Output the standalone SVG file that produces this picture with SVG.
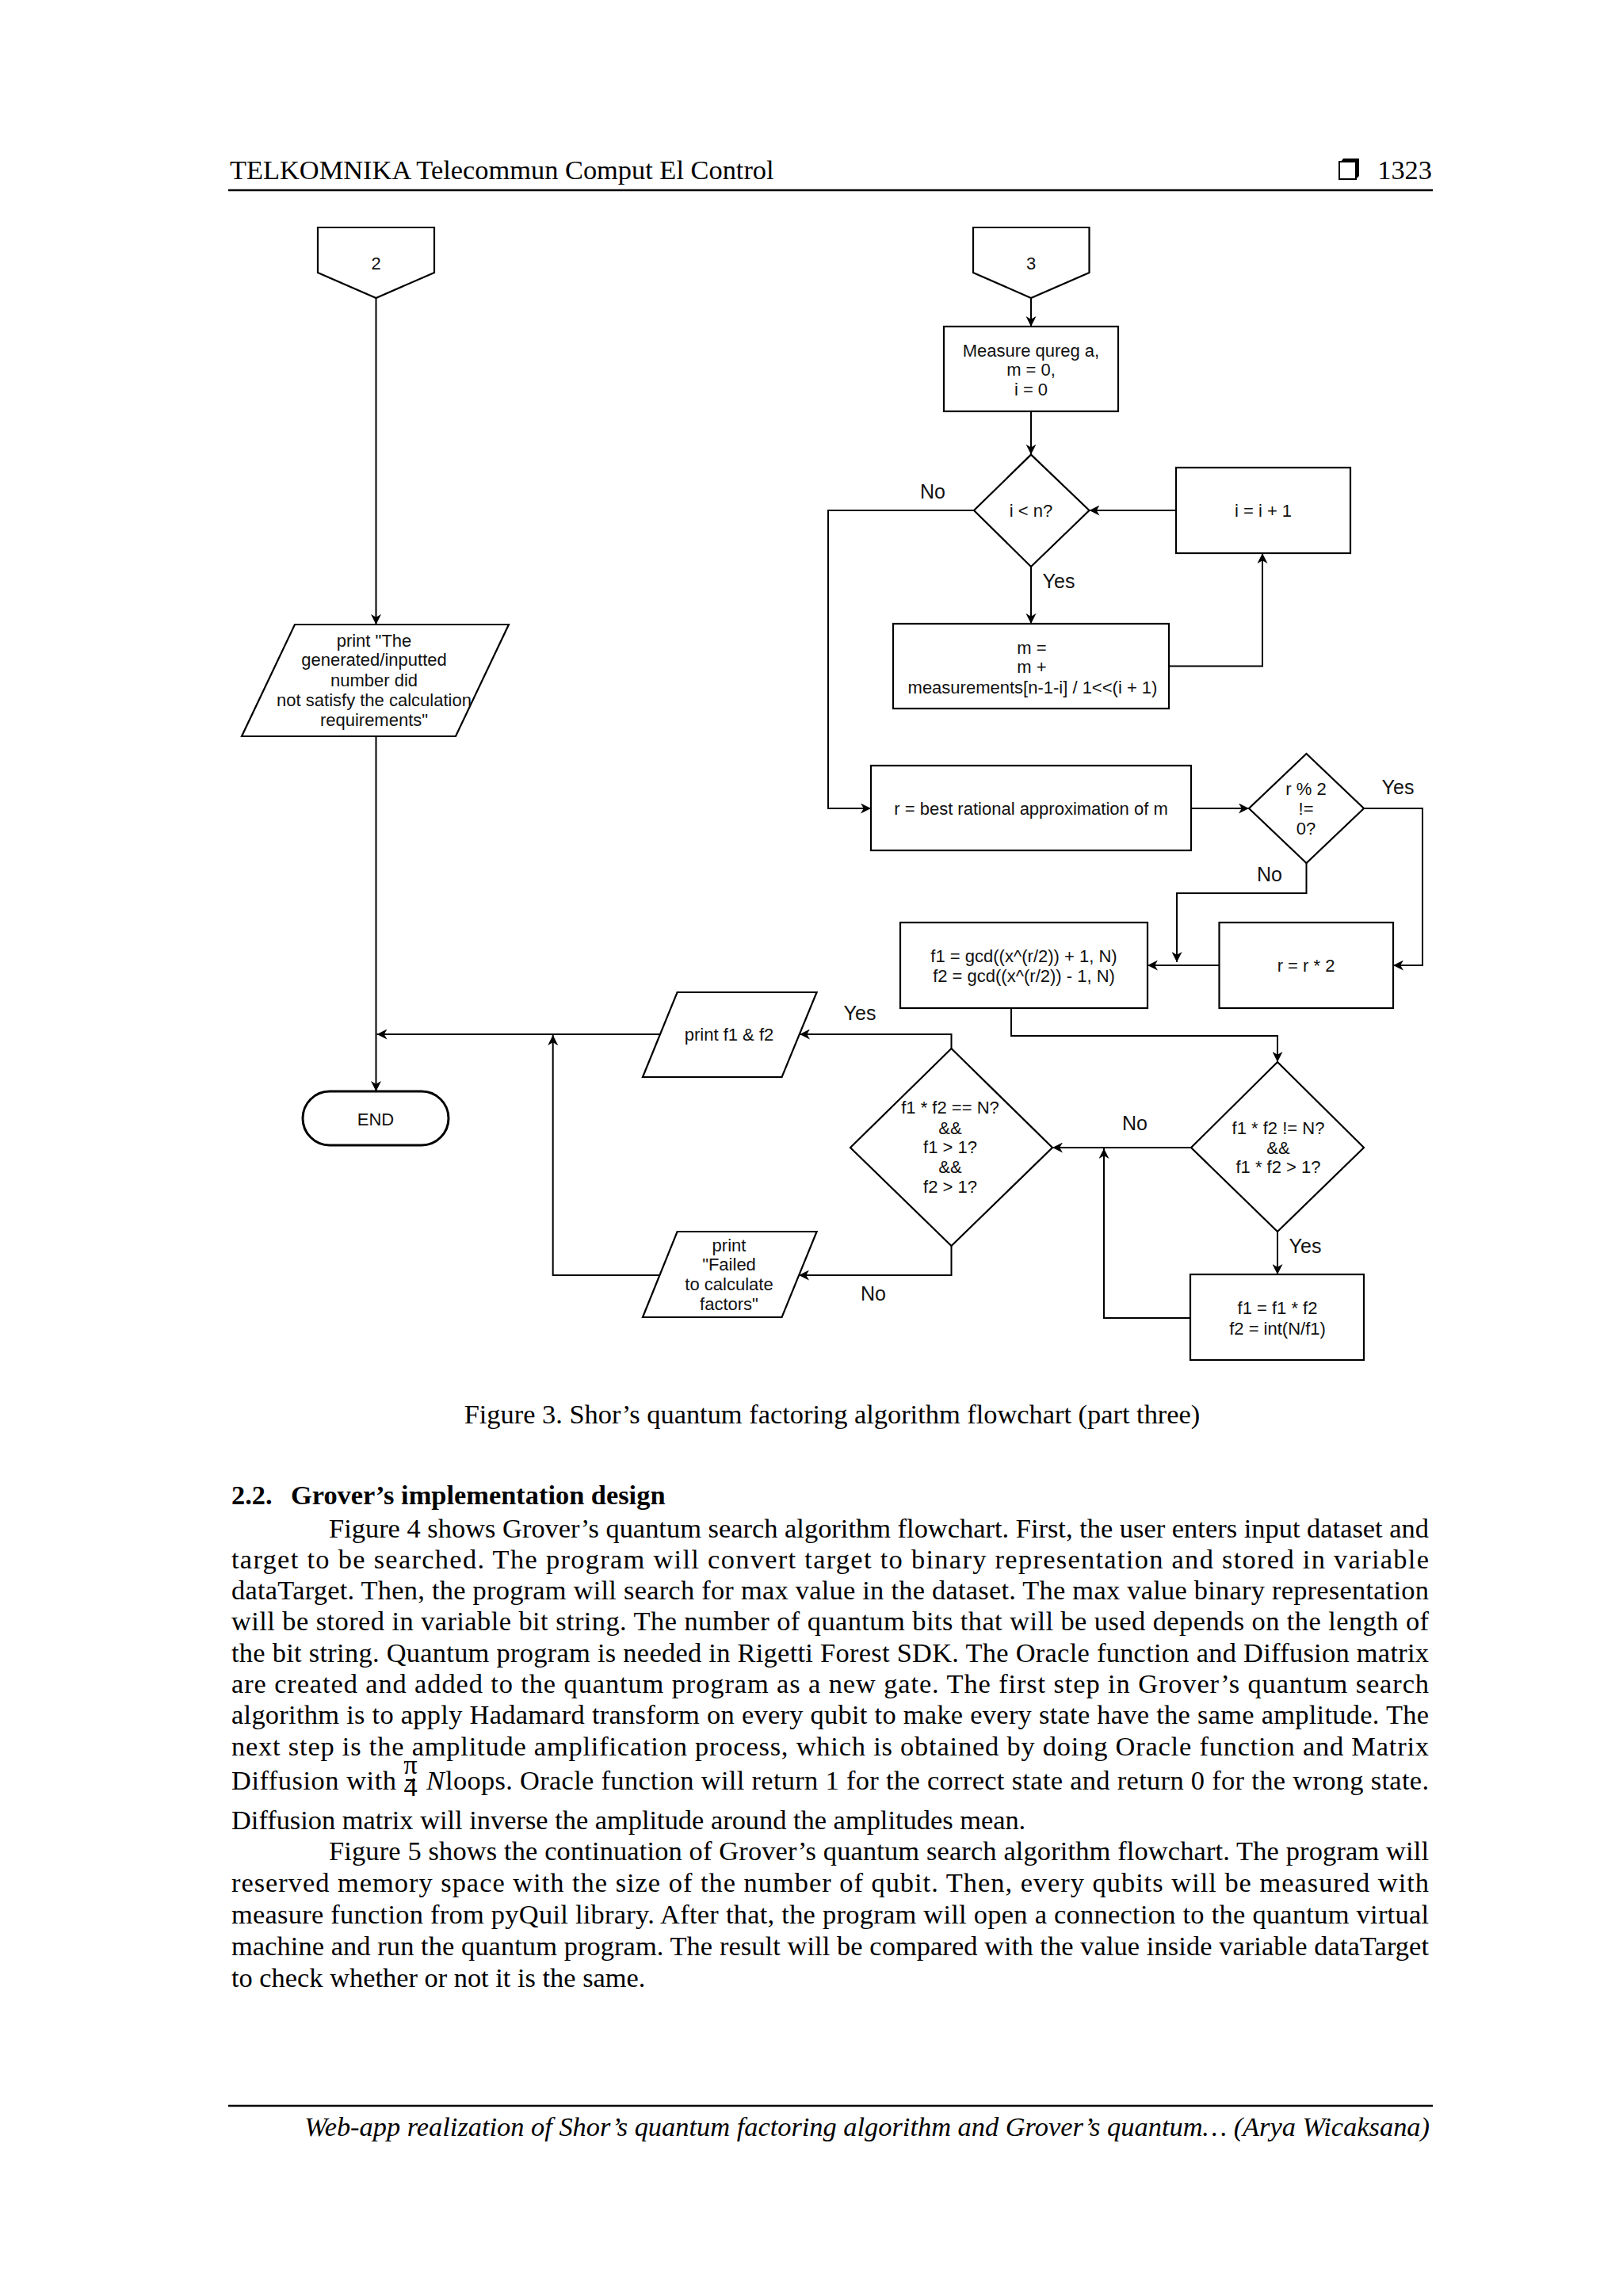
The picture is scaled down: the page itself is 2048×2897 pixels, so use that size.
<svg xmlns="http://www.w3.org/2000/svg" width="2048" height="2897" viewBox="0 0 2048 2897">
<style>
.shape{fill:#fff;stroke:#000;stroke-width:2.2}
.term{fill:#fff;stroke:#000;stroke-width:3}
.conn{fill:none;stroke:#000;stroke-width:2}
.fc{font-family:"Liberation Sans",Arial,sans-serif;font-size:22px;text-anchor:middle;fill:#111}
.lbl{font-family:"Liberation Sans",Arial,sans-serif;font-size:25px;text-anchor:middle;fill:#111}
.pg{font-family:"Liberation Serif","Times New Roman",serif;font-size:34.4px;fill:#000}
.rule{stroke:#000;stroke-width:2.5}
</style>
<defs>
<marker id="arr" viewBox="0 0 12 12" markerWidth="13" markerHeight="13" refX="12" refY="6" orient="auto" markerUnits="userSpaceOnUse">
<path d="M0,0 L12,6 L0,12 L3.5,6 z" fill="#000"/>
</marker>
</defs>
<rect width="2048" height="2897" fill="#fff"/>

<!-- Header -->
<g id="header">
<text class="pg" x="290" y="226">TELKOMNIKA Telecommun Comput El Control</text>
<rect x="1690" y="204" width="21" height="22" fill="#fff" stroke="#000" stroke-width="2"/>
<path d="M1692,204 L1695,200 L1715,200 L1715,222 L1711,226 L1711,204 z" fill="#000"/>
<text class="pg" x="1807" y="226" text-anchor="end">1323</text>
<line class="rule" x1="288" y1="240" x2="1808" y2="240"/>
</g>

<!-- Connectors -->
<g id="connectors">
<path class="conn" d="M474.5,376 L474.5,788" marker-end="url(#arr)"/>
<path class="conn" d="M474.5,929 L474.5,1377" marker-end="url(#arr)"/>
<path class="conn" d="M1301,376 L1301,412" marker-end="url(#arr)"/>
<path class="conn" d="M1301,519 L1301,573.6" marker-end="url(#arr)"/>
<path class="conn" d="M1301,715 L1301,787" marker-end="url(#arr)"/>
<path class="conn" d="M1475,840.5 L1593,840.5 L1593,698" marker-end="url(#arr)"/>
<path class="conn" d="M1484,644 L1374.5,644" marker-end="url(#arr)"/>
<path class="conn" d="M1229,644 L1045,644 L1045,1020 L1099,1020" marker-end="url(#arr)"/>
<path class="conn" d="M1503,1020 L1576,1020" marker-end="url(#arr)"/>
<path class="conn" d="M1721,1020 L1795,1020 L1795,1218 L1758,1218" marker-end="url(#arr)"/>
<path class="conn" d="M1648.5,1089 L1648.5,1127 L1485,1127 L1485,1214" marker-end="url(#arr)"/>
<path class="conn" d="M1538.5,1218 L1448,1218" marker-end="url(#arr)"/>
<path class="conn" d="M1276,1272 L1276,1307 L1612,1307 L1612,1340" marker-end="url(#arr)"/>
<path class="conn" d="M1503,1448 L1328,1448" marker-end="url(#arr)"/>
<path class="conn" d="M1612,1554 L1612,1608" marker-end="url(#arr)"/>
<path class="conn" d="M1502,1663 L1393,1663 L1393,1449" marker-end="url(#arr)"/>
<path class="conn" d="M1200.5,1323 L1200.5,1305 L1009,1305" marker-end="url(#arr)"/>
<path class="conn" d="M1200.5,1572 L1200.5,1609 L1008,1609" marker-end="url(#arr)"/>
<path class="conn" d="M833,1305 L475.5,1305" marker-end="url(#arr)"/>
<path class="conn" d="M832,1609 L697.7,1609 L697.7,1306" marker-end="url(#arr)"/>
<text class="lbl" x="1177" y="629">No</text>
<text class="lbl" x="1336" y="742">Yes</text>
<text class="lbl" x="1764" y="1002">Yes</text>
<text class="lbl" x="1602" y="1112">No</text>
<text class="lbl" x="1085" y="1287">Yes</text>
<text class="lbl" x="1102" y="1641">No</text>
<text class="lbl" x="1432" y="1426">No</text>
<text class="lbl" x="1647" y="1581">Yes</text>
</g>

<!-- Nodes -->
<g id="n2">
<polygon class="shape" points="401,287 548,287 548,344 474.5,376 401,344"/>
<text class="fc" x="474.5" y="340">2</text>
</g>
<g id="n3">
<polygon class="shape" points="1228,287 1374.5,287 1374.5,344 1301,376 1228,344"/>
<text class="fc" x="1301" y="340">3</text>
</g>
<g id="printFail1">
<polygon class="shape" points="372,788 642,788 575,929 305,929"/>
<text class="fc" x="472" y="816">print "The</text>
<text class="fc" x="472" y="840">generated/inputted</text>
<text class="fc" x="472" y="866">number did</text>
<text class="fc" x="472" y="891">not satisfy the calculation</text>
<text class="fc" x="472" y="916">requirements"</text>
</g>
<g id="end">
<rect class="term" x="382" y="1377" width="184" height="68" rx="34" ry="34"/>
<text class="fc" x="474" y="1420">END</text>
</g>
<g id="measure">
<rect class="shape" x="1191" y="412" width="220" height="107"/>
<text class="fc" x="1301" y="450">Measure qureg a,</text>
<text class="fc" x="1301" y="474">m = 0,</text>
<text class="fc" x="1301" y="499">i = 0</text>
</g>
<g id="d_ilt">
<polygon class="shape" points="1301,573.6 1374.5,644 1301,715 1229,644"/>
<text class="fc" x="1301" y="652">i &lt; n?</text>
</g>
<g id="incr">
<rect class="shape" x="1484" y="590" width="220" height="108"/>
<text class="fc" x="1594" y="652">i = i + 1</text>
</g>
<g id="mbox">
<rect class="shape" x="1127" y="787" width="348" height="107"/>
<text class="fc" x="1302" y="825">m =</text>
<text class="fc" x="1302" y="849">m +</text>
<text class="fc" x="1303" y="875">measurements[n-1-i] / 1&lt;&lt;(i + 1)</text>
</g>
<g id="rbox">
<rect class="shape" x="1099" y="966" width="404" height="107"/>
<text class="fc" x="1301" y="1028">r = best rational approximation of m</text>
</g>
<g id="d_rmod">
<polygon class="shape" points="1648.5,951 1721,1020 1648.5,1089 1576,1020"/>
<text class="fc" x="1648" y="1003">r % 2</text>
<text class="fc" x="1648" y="1028">!=</text>
<text class="fc" x="1648" y="1053">0?</text>
</g>
<g id="gcd">
<rect class="shape" x="1136" y="1164" width="312" height="108"/>
<text class="fc" x="1292" y="1214">f1 = gcd((x^(r/2)) + 1, N)</text>
<text class="fc" x="1292" y="1239">f2 = gcd((x^(r/2)) - 1, N)</text>
</g>
<g id="rdouble">
<rect class="shape" x="1538.5" y="1164" width="219.5" height="108"/>
<text class="fc" x="1648" y="1226">r = r * 2</text>
</g>
<g id="d_neq">
<polygon class="shape" points="1612,1340 1721,1448 1612,1554 1503,1448"/>
<text class="fc" x="1613" y="1431">f1 * f2 != N?</text>
<text class="fc" x="1613" y="1456">&amp;&amp;</text>
<text class="fc" x="1613" y="1480">f1 * f2 &gt; 1?</text>
</g>
<g id="fupd">
<rect class="shape" x="1502" y="1608" width="219" height="108"/>
<text class="fc" x="1612" y="1658">f1 = f1 * f2</text>
<text class="fc" x="1612" y="1684">f2 = int(N/f1)</text>
</g>
<g id="d_eq">
<polygon class="shape" points="1200.5,1323 1328,1448 1200.5,1572 1073,1448"/>
<text class="fc" x="1199" y="1405">f1 * f2 == N?</text>
<text class="fc" x="1199" y="1431">&amp;&amp;</text>
<text class="fc" x="1199" y="1455">f1 &gt; 1?</text>
<text class="fc" x="1199" y="1480">&amp;&amp;</text>
<text class="fc" x="1199" y="1505">f2 &gt; 1?</text>
</g>
<g id="printf">
<polygon class="shape" points="854.6,1252 1030.6,1252 986.6,1359 811,1359"/>
<text class="fc" x="920" y="1313">print f1 &amp; f2</text>
</g>
<g id="printFail2">
<polygon class="shape" points="854.6,1554 1030.6,1554 986.6,1662 811,1662"/>
<text class="fc" x="920" y="1579">print</text>
<text class="fc" x="920" y="1603">"Failed</text>
<text class="fc" x="920" y="1628">to calculate</text>
<text class="fc" x="920" y="1653">factors"</text>
</g>

<!-- Caption and body text -->
<g id="body">
<text class="pg" x="1050" y="1796" text-anchor="middle">Figure 3. Shor’s quantum factoring algorithm flowchart (part three)</text>
<text class="pg" x="292" y="1898" font-weight="bold">2.2.</text>
<text class="pg" x="367" y="1898" font-weight="bold">Grover’s implementation design</text>
<text class="pg" x="415" y="1940" textLength="1388" lengthAdjust="spacing">Figure 4 shows Grover’s quantum search algorithm flowchart. First, the user enters input dataset and</text>
<text class="pg" x="292" y="1979" textLength="1511" lengthAdjust="spacing">target to be searched. The program will convert target to binary representation and stored in variable</text>
<text class="pg" x="292" y="2018" textLength="1511" lengthAdjust="spacing">dataTarget. Then, the program will search for max value in the dataset. The max value binary representation</text>
<text class="pg" x="292" y="2057" textLength="1511" lengthAdjust="spacing">will be stored in variable bit string. The number of quantum bits that will be used depends on the length of</text>
<text class="pg" x="292" y="2097" textLength="1511" lengthAdjust="spacing">the bit string. Quantum program is needed in Rigetti Forest SDK. The Oracle function and Diffusion matrix</text>
<text class="pg" x="292" y="2136" textLength="1511" lengthAdjust="spacing">are created and added to the quantum program as a new gate. The first step in Grover’s quantum search</text>
<text class="pg" x="292" y="2175" textLength="1511" lengthAdjust="spacing">algorithm is to apply Hadamard transform on every qubit to make every state have the same amplitude. The</text>
<text class="pg" x="292" y="2215" textLength="1511" lengthAdjust="spacing">next step is the amplitude amplification process, which is obtained by doing Oracle function and Matrix</text>
<text class="pg" x="292" y="2258" textLength="208" lengthAdjust="spacing">Diffusion with</text>
<text class="pg" x="518" y="2238" font-size="15" text-anchor="middle">π</text>
<line x1="512" y1="2246" x2="524" y2="2246" stroke="#000" stroke-width="2"/>
<text class="pg" x="518" y="2266" font-size="16" text-anchor="middle">4</text>
<text class="pg" x="538" y="2258" font-size="32" font-style="italic">N</text>
<text class="pg" x="562" y="2258" textLength="1241" lengthAdjust="spacing">loops. Oracle function will return 1 for the correct state and return 0 for the wrong state.</text>
<text class="pg" x="292" y="2308">Diffusion matrix will inverse the amplitude around the amplitudes mean.</text>
<text class="pg" x="415" y="2347" textLength="1388" lengthAdjust="spacing">Figure 5 shows the continuation of Grover’s quantum search algorithm flowchart. The program will</text>
<text class="pg" x="292" y="2387" textLength="1511" lengthAdjust="spacing">reserved memory space with the size of the number of qubit. Then, every qubits will be measured with</text>
<text class="pg" x="292" y="2427" textLength="1511" lengthAdjust="spacing">measure function from pyQuil library. After that, the program will open a connection to the quantum virtual</text>
<text class="pg" x="292" y="2467" textLength="1511" lengthAdjust="spacing">machine and run the quantum program. The result will be compared with the value inside variable dataTarget</text>
<text class="pg" x="292" y="2507">to check whether or not it is the same.</text>
</g>

<!-- Footer -->
<g id="footer">
<line class="rule" x1="288" y1="2657" x2="1808" y2="2657"/>
<text class="pg" x="1804" y="2695" text-anchor="end" font-style="italic">Web-app realization of Shor’s quantum factoring algorithm and Grover’s quantum… (Arya Wicaksana)</text>
</g>
</svg>
